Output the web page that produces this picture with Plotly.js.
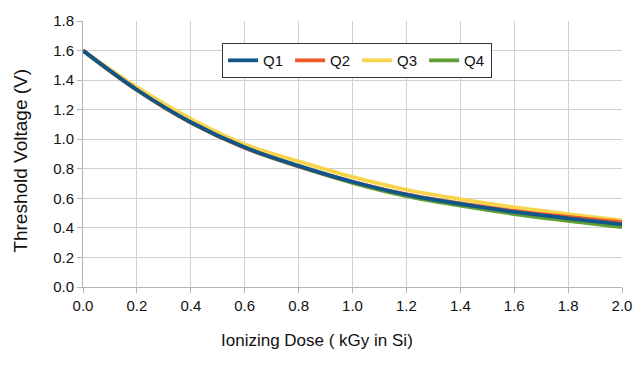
<!DOCTYPE html>
<html>
<head>
<meta charset="utf-8">
<script src="https://cdn.plot.ly/plotly-3.0.1.min.js"></script>
<style>html,body{margin:0;padding:0;background:#fff;}#chart{width:643px;height:367px;}</style>
</head>
<body>
<div id="chart"></div>
<script>
const dose = [0.0, 0.2, 0.4, 0.6, 0.8, 1.0, 1.2, 1.4, 1.6, 1.8, 2.0];
const q1 = [1.600, 1.335, 1.115, 0.945, 0.820, 0.712, 0.625, 0.562, 0.508, 0.465, 0.424];
const q2 = [1.600, 1.333, 1.112, 0.942, 0.818, 0.712, 0.627, 0.566, 0.515, 0.474, 0.438];
const q3 = [1.600, 1.352, 1.138, 0.965, 0.850, 0.745, 0.658, 0.595, 0.540, 0.493, 0.450];
const q4 = [1.600, 1.333, 1.112, 0.942, 0.815, 0.705, 0.615, 0.550, 0.494, 0.448, 0.405];
const names = ["Q1", "Q2", "Q3", "Q4"];
const colors = ["#0f568a", "#f0572a", "#f7d44c", "#5f9e32"];
const series = [q1, q2, q3, q4];
const xTitle = "Ionizing Dose ( kGy in Si)";
const yTitle = "Threshold Voltage (V)";

const traces = [];
for (let i = series.length - 1; i >= 0; i--) {
  traces.push({
    x: dose, y: series[i], name: names[i], type: "scatter", mode: "lines",
    line: {color: colors[i], width: 3.8, shape: "spline", smoothing: 1},
    legendrank: i + 1
  });
}

const FONT = "Liberation Sans, Arial, sans-serif";
const axisCommon = {
  showline: true, linecolor: "#b3b3b3", linewidth: 1,
  showgrid: true, gridcolor: "#d0d0d0", gridwidth: 1,
  ticks: "outside", ticklen: 5, tickcolor: "#b3b3b3",
  tickfont: {family: FONT, size: 15, color: "#111"},
  zeroline: false, tickformat: ".1f", dtick: 0.2
};

const layout = {
  width: 643, height: 367,
  margin: {l: 83, r: 21, t: 21, b: 80},
  paper_bgcolor: "#fff", plot_bgcolor: "#fff",
  font: {family: FONT, color: "#111"},
  xaxis: Object.assign({}, axisCommon, {range: [0, 2.0], tick0: 0}),
  yaxis: Object.assign({}, axisCommon, {range: [0, 1.8], tick0: 0}),
  annotations: [
    {text: xTitle, xref: "paper", yref: "paper", x: 0.434, y: -0.203,
     xanchor: "center", yanchor: "middle", showarrow: false,
     font: {family: FONT, size: 17, color: "#111"}},
    {text: yTitle, xref: "paper", yref: "paper", x: -0.115, y: 0.475,
     xanchor: "center", yanchor: "middle", showarrow: false, textangle: -90,
     font: {family: FONT, size: 19, color: "#111"}}
  ],
  showlegend: true,
  legend: {
    orientation: "h", x: 0.258, y: 0.917, xanchor: "left", yanchor: "top",
    bgcolor: "#fff", bordercolor: "#333", borderwidth: 1,
    font: {family: FONT, size: 15, color: "#111"}, traceorder: "normal",
    entrywidth: 22, entrywidthmode: "pixels"
  }
};

Plotly.newPlot("chart", traces, layout, {staticPlot: true, displayModeBar: false});
</script>
</body>
</html>
